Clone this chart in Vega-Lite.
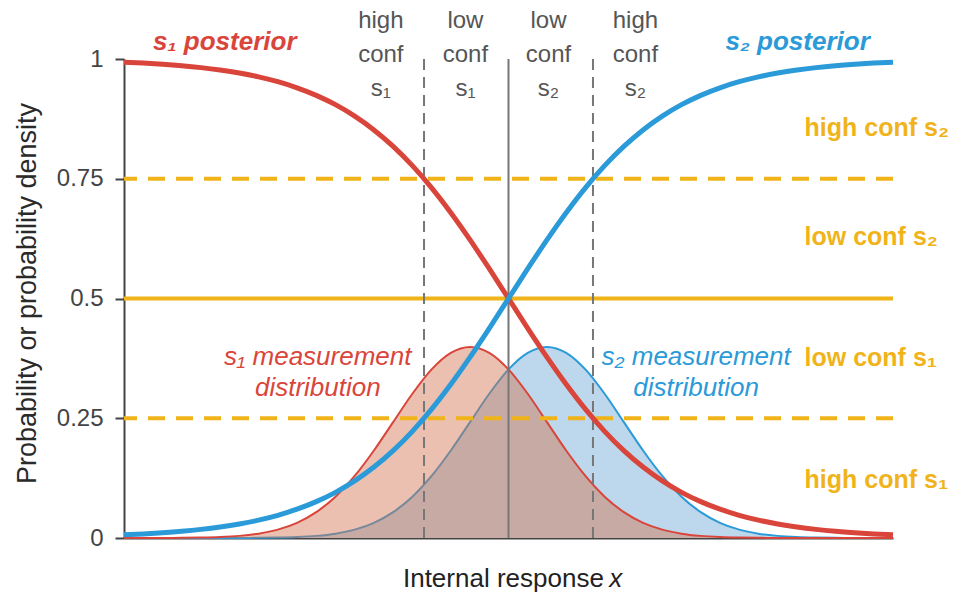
{
  "$schema": "https://vega.github.io/schema/vega-lite/v6.json",
  "width": 769,
  "height": 479,
  "autosize": {"type": "none"},
  "padding": {"left": 124, "top": 59, "right": 76, "bottom": 55},
  "background": "white",
  "config": {"font": "Liberation Sans", "view": {"stroke": null}},
  "datasets": {
    "curves": [
      {"x": -5, "p1": 0.99331, "p2": 0.00669, "g1": 0.00002, "g2": 0},
      {"x": -4.75, "p1": 0.99142, "p2": 0.00858, "g1": 0.00005, "g2": 0},
      {"x": -4.5, "p1": 0.98901, "p2": 0.01099, "g1": 0.00013, "g2": 0},
      {"x": -4.25, "p1": 0.98594, "p2": 0.01406, "g1": 0.00035, "g2": 0.00001},
      {"x": -4, "p1": 0.98201, "p2": 0.01799, "g1": 0.00087, "g2": 0.00002},
      {"x": -3.75, "p1": 0.97702, "p2": 0.02298, "g1": 0.00203, "g2": 0.00005},
      {"x": -3.5, "p1": 0.97069, "p2": 0.02931, "g1": 0.00443, "g2": 0.00013},
      {"x": -3.25, "p1": 0.96267, "p2": 0.03733, "g1": 0.00909, "g2": 0.00035},
      {"x": -3, "p1": 0.95257, "p2": 0.04743, "g1": 0.01753, "g2": 0.00087},
      {"x": -2.75, "p1": 0.93991, "p2": 0.06009, "g1": 0.03174, "g2": 0.00203},
      {"x": -2.5, "p1": 0.92414, "p2": 0.07586, "g1": 0.05399, "g2": 0.00443},
      {"x": -2.25, "p1": 0.90465, "p2": 0.09535, "g1": 0.08628, "g2": 0.00909},
      {"x": -2, "p1": 0.8808, "p2": 0.1192, "g1": 0.12952, "g2": 0.01753},
      {"x": -1.75, "p1": 0.85195, "p2": 0.14805, "g1": 0.18265, "g2": 0.03174},
      {"x": -1.5, "p1": 0.81757, "p2": 0.18243, "g1": 0.24197, "g2": 0.05399},
      {"x": -1.25, "p1": 0.7773, "p2": 0.2227, "g1": 0.30114, "g2": 0.08628},
      {"x": -1, "p1": 0.73106, "p2": 0.26894, "g1": 0.35207, "g2": 0.12952},
      {"x": -0.75, "p1": 0.67918, "p2": 0.32082, "g1": 0.38667, "g2": 0.18265},
      {"x": -0.5, "p1": 0.62246, "p2": 0.37754, "g1": 0.39894, "g2": 0.24197},
      {"x": -0.25, "p1": 0.56218, "p2": 0.43782, "g1": 0.38667, "g2": 0.30114},
      {"x": 0, "p1": 0.5, "p2": 0.5, "g1": 0.35207, "g2": 0.35207},
      {"x": 0.25, "p1": 0.43782, "p2": 0.56218, "g1": 0.30114, "g2": 0.38667},
      {"x": 0.5, "p1": 0.37754, "p2": 0.62246, "g1": 0.24197, "g2": 0.39894},
      {"x": 0.75, "p1": 0.32082, "p2": 0.67918, "g1": 0.18265, "g2": 0.38667},
      {"x": 1, "p1": 0.26894, "p2": 0.73106, "g1": 0.12952, "g2": 0.35207},
      {"x": 1.25, "p1": 0.2227, "p2": 0.7773, "g1": 0.08628, "g2": 0.30114},
      {"x": 1.5, "p1": 0.18243, "p2": 0.81757, "g1": 0.05399, "g2": 0.24197},
      {"x": 1.75, "p1": 0.14805, "p2": 0.85195, "g1": 0.03174, "g2": 0.18265},
      {"x": 2, "p1": 0.1192, "p2": 0.8808, "g1": 0.01753, "g2": 0.12952},
      {"x": 2.25, "p1": 0.09535, "p2": 0.90465, "g1": 0.00909, "g2": 0.08628},
      {"x": 2.5, "p1": 0.07586, "p2": 0.92414, "g1": 0.00443, "g2": 0.05399},
      {"x": 2.75, "p1": 0.06009, "p2": 0.93991, "g1": 0.00203, "g2": 0.03174},
      {"x": 3, "p1": 0.04743, "p2": 0.95257, "g1": 0.00087, "g2": 0.01753},
      {"x": 3.25, "p1": 0.03733, "p2": 0.96267, "g1": 0.00035, "g2": 0.00909},
      {"x": 3.5, "p1": 0.02931, "p2": 0.97069, "g1": 0.00013, "g2": 0.00443},
      {"x": 3.75, "p1": 0.02298, "p2": 0.97702, "g1": 0.00005, "g2": 0.00203},
      {"x": 4, "p1": 0.01799, "p2": 0.98201, "g1": 0.00002, "g2": 0.00087},
      {"x": 4.25, "p1": 0.01406, "p2": 0.98594, "g1": 0.00001, "g2": 0.00035},
      {"x": 4.5, "p1": 0.01099, "p2": 0.98901, "g1": 0, "g2": 0.00013},
      {"x": 4.75, "p1": 0.00858, "p2": 0.99142, "g1": 0, "g2": 0.00005},
      {"x": 5, "p1": 0.00669, "p2": 0.99331, "g1": 0, "g2": 0.00002}
    ],
    "criteria": [{"level": 0.25}, {"level": 0.75}],
    "bounds": [{"bound": -1.0986}, {"bound": 1.0986}],
    "one": [{}]
  },
  "layer": [
    {
      "data": {"name": "curves"},
      "mark": {"type": "area", "color": "#bdd7ec", "interpolate": "monotone"},
      "encoding": {
        "x": {"field": "x", "type": "quantitative", "scale": {"domain": [-5, 5], "nice": false, "zero": false},
          "axis": {"title": null, "labels": false, "ticks": false, "grid": false, "domainColor": "#444", "domainWidth": 2}},
        "y": {"field": "g2", "type": "quantitative", "scale": {"domain": [0, 1], "nice": false},
          "axis": {"title": "Probability or probability density", "values": [0, 0.25, 0.5, 0.75, 1], "labelExpr": "datum.value + ''",
            "grid": false, "domainColor": "#444", "domainWidth": 2, "tickColor": "#444", "tickWidth": 2, "tickSize": 9,
            "labelFontSize": 24, "labelColor": "#444", "labelPadding": 12, "titleFontSize": 27, "titleColor": "#2a2a2a", "titleFontWeight": "normal", "titlePadding": 15, "titleY": 234}}
      }
    },
    {
      "data": {"name": "curves"},
      "mark": {"type": "line", "color": "#2a9ad8", "strokeWidth": 2, "interpolate": "monotone"},
      "encoding": {"x": {"field": "x", "type": "quantitative"}, "y": {"field": "g2", "type": "quantitative"}}
    },
    {
      "data": {"name": "curves"},
      "mark": {"type": "area", "color": "rgb(213,115,80)", "opacity": 0.45, "interpolate": "monotone"},
      "encoding": {"x": {"field": "x", "type": "quantitative"}, "y": {"field": "g1", "type": "quantitative"}}
    },
    {
      "data": {"name": "curves"},
      "mark": {"type": "line", "color": "#d9453b", "strokeWidth": 2, "interpolate": "monotone"},
      "encoding": {"x": {"field": "x", "type": "quantitative"}, "y": {"field": "g1", "type": "quantitative"}}
    },
    {
      "data": {"name": "criteria"},
      "mark": {"type": "rule", "color": "#f0b41a", "strokeWidth": 4, "strokeDash": [17, 11]},
      "encoding": {"y": {"field": "level", "type": "quantitative"}}
    },
    {
      "data": {"name": "one"},
      "mark": {"type": "rule", "color": "#f0b41a", "strokeWidth": 4},
      "encoding": {"y": {"datum": 0.5}}
    },
    {
      "data": {"name": "bounds"},
      "mark": {"type": "rule", "color": "#777", "strokeWidth": 2, "strokeDash": [11, 7]},
      "encoding": {"x": {"field": "bound", "type": "quantitative"}}
    },
    {
      "data": {"name": "one"},
      "mark": {"type": "rule", "color": "#777", "strokeWidth": 2},
      "encoding": {"x": {"datum": 0}}
    },
    {
      "data": {"name": "curves"},
      "mark": {"type": "line", "color": "#d9453b", "strokeWidth": 5, "interpolate": "monotone"},
      "encoding": {"x": {"field": "x", "type": "quantitative"}, "y": {"field": "p1", "type": "quantitative"}}
    },
    {
      "data": {"name": "curves"},
      "mark": {"type": "line", "color": "#2a9ad8", "strokeWidth": 5, "interpolate": "monotone"},
      "encoding": {"x": {"field": "x", "type": "quantitative"}, "y": {"field": "p2", "type": "quantitative"}}
    },
    {
      "data": {"name": "one"},
      "mark": {"type": "text", "text": "s₁ posterior", "fontSize": 26, "fontWeight": "bold", "fontStyle": "italic", "color": "#d9453b", "align": "center", "baseline": "middle"},
      "encoding": {"x": {"datum": -3.69}, "y": {"datum": 1.035}}
    },
    {
      "data": {"name": "one"},
      "mark": {"type": "text", "text": "s₂ posterior", "fontSize": 26, "fontWeight": "bold", "fontStyle": "italic", "color": "#2a9ad8", "align": "center", "baseline": "middle"},
      "encoding": {"x": {"datum": 3.76}, "y": {"datum": 1.035}}
    },
    {
      "data": {"name": "one"},
      "mark": {"type": "text", "text": ["high", "conf", "s₁"], "lineHeight": 34, "fontSize": 24, "color": "#555", "align": "center", "baseline": "middle"},
      "encoding": {"x": {"datum": -1.66}, "y": {"datum": 1.079}}
    },
    {
      "data": {"name": "one"},
      "mark": {"type": "text", "text": ["low", "conf", "s₁"], "lineHeight": 34, "fontSize": 24, "color": "#555", "align": "center", "baseline": "middle"},
      "encoding": {"x": {"datum": -0.56}, "y": {"datum": 1.079}}
    },
    {
      "data": {"name": "one"},
      "mark": {"type": "text", "text": ["low", "conf", "s₂"], "lineHeight": 34, "fontSize": 24, "color": "#555", "align": "center", "baseline": "middle"},
      "encoding": {"x": {"datum": 0.52}, "y": {"datum": 1.079}}
    },
    {
      "data": {"name": "one"},
      "mark": {"type": "text", "text": ["high", "conf", "s₂"], "lineHeight": 34, "fontSize": 24, "color": "#555", "align": "center", "baseline": "middle"},
      "encoding": {"x": {"datum": 1.65}, "y": {"datum": 1.079}}
    },
    {
      "data": {"name": "one"},
      "mark": {"type": "text", "text": "high conf s₂", "fontSize": 25, "fontWeight": "bold", "color": "#f0b41a", "align": "left", "baseline": "middle"},
      "encoding": {"x": {"datum": 3.85}, "y": {"datum": 0.856}}
    },
    {
      "data": {"name": "one"},
      "mark": {"type": "text", "text": "low conf s₂", "fontSize": 25, "fontWeight": "bold", "color": "#f0b41a", "align": "left", "baseline": "middle"},
      "encoding": {"x": {"datum": 3.85}, "y": {"datum": 0.628}}
    },
    {
      "data": {"name": "one"},
      "mark": {"type": "text", "text": "low conf s₁", "fontSize": 25, "fontWeight": "bold", "color": "#f0b41a", "align": "left", "baseline": "middle"},
      "encoding": {"x": {"datum": 3.85}, "y": {"datum": 0.376}}
    },
    {
      "data": {"name": "one"},
      "mark": {"type": "text", "text": "high conf s₁", "fontSize": 25, "fontWeight": "bold", "color": "#f0b41a", "align": "left", "baseline": "middle"},
      "encoding": {"x": {"datum": 3.85}, "y": {"datum": 0.121}}
    },
    {
      "data": {"name": "one"},
      "mark": {"type": "text", "text": ["s₁ measurement", "distribution"], "lineHeight": 31, "fontSize": 26, "fontStyle": "italic", "color": "#d9453b", "align": "center", "baseline": "middle"},
      "encoding": {"x": {"datum": -2.48}, "y": {"datum": 0.378}}
    },
    {
      "data": {"name": "one"},
      "mark": {"type": "text", "text": ["s₂ measurement", "distribution"], "lineHeight": 31, "fontSize": 26, "fontStyle": "italic", "color": "#2a9ad8", "align": "center", "baseline": "middle"},
      "encoding": {"x": {"datum": 2.44}, "y": {"datum": 0.378}}
    },
    {
      "data": {"name": "one"},
      "mark": {"type": "text", "text": "Internal response", "fontSize": 26, "color": "#222", "align": "right", "baseline": "middle"},
      "encoding": {"x": {"datum": 1.24}, "y": {"datum": -0.085}}
    },
    {
      "data": {"name": "one"},
      "mark": {"type": "text", "text": "x", "fontSize": 26, "fontStyle": "italic", "color": "#222", "align": "left", "baseline": "middle"},
      "encoding": {"x": {"datum": 1.31}, "y": {"datum": -0.085}}
    }
  ]
}
